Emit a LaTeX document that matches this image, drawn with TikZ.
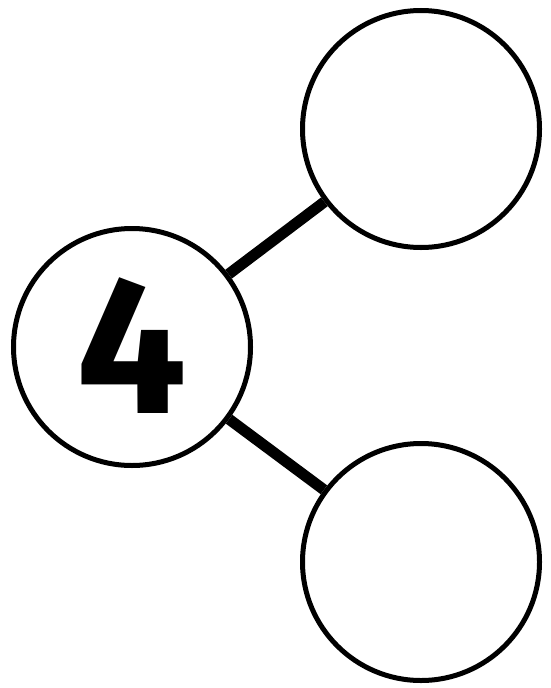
\documentclass[tikz,border=0pt]{standalone}
\usepackage{fontspec}
\newfontfamily\numfont{Fira Sans}
\usepackage{tikz}
\usetikzlibrary{positioning}

\begin{document}
\begin{tikzpicture}[x=1pt, y=-1pt, every node/.style={align=center},
        part/.style={draw, circle, line width=5pt, minimum size=237pt, inner sep=0pt},
        bond/.style={line width=11pt}]
        \useasboundingbox (0,0) rectangle (551,688);
        \node (whole) [part, font=\numfont\bfseries\fontsize{196}{196}\selectfont] at (132,347) {\raisebox{3pt}{4}};
        \node (parta) [part] at (421,129) {};
        \node (partb) [part] at (421,562) {};

        \draw[bond] (whole) -- (parta);
        \draw[bond] (whole) -- (partb);
    \end{tikzpicture}
\end{document}
